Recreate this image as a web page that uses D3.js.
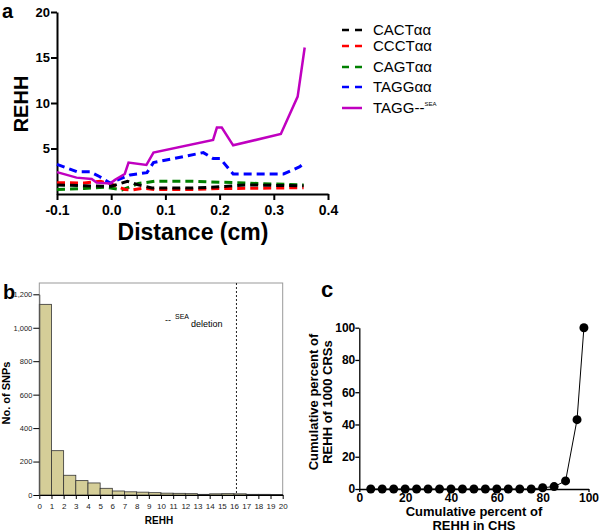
<!DOCTYPE html>
<html>
<head>
<meta charset="utf-8">
<script src="https://cdn.jsdelivr.net/npm/d3@7"></script>
<style>
  body { margin: 0; background: #fff; }
  svg { display: block; font-family: "Liberation Sans", Arial, sans-serif; }
</style>
</head>
<body>
<div id="chart"></div>
<script>
// REHH figure: a = REHH vs distance, b = REHH histogram, c = cumulative percent

// panel a
var seriesNames = ["CACTαα", "CCCTαα", "CAGTαα", "TAGGαα", "TAGG--"];
var cactDist = [-0.1, -0.05, 0.0, 0.03, 0.05, 0.075, 0.15, 0.2, 0.25, 0.3, 0.355];
var cactRehh = [1.0, 0.9, 0.85, 1.4, 1.0, 0.65, 0.65, 0.8, 1.0, 0.95, 0.9];
var ccctDist = [-0.1, -0.05, -0.02, 0.0, 0.025, 0.04, 0.06, 0.08, 0.15, 0.2, 0.3, 0.355];
var ccctRehh = [1.25, 1.2, 1.4, 1.1, 0.5, 0.45, 0.65, 0.5, 0.5, 0.6, 0.65, 0.7];
var cagtDist = [-0.1, -0.05, -0.01, 0.02, 0.05, 0.08, 0.15, 0.2, 0.25, 0.3, 0.355];
var cagtRehh = [0.5, 0.6, 0.75, 0.45, 1.15, 1.4, 1.4, 1.3, 1.2, 1.1, 1.0];
var taggDist = [-0.1, -0.063, -0.039, -0.021, -0.002, 0.035, 0.066, 0.078, 0.17, 0.188, 0.201, 0.225, 0.318, 0.348, 0.355];
var taggRehh = [3.25, 2.45, 2.45, 1.9, 1.2, 2.1, 2.35, 3.45, 4.55, 3.9, 3.9, 2.2, 2.2, 3.0, 3.35];
var seaDist = [-0.1, -0.064, -0.036, -0.027, -0.002, 0.007, 0.025, 0.032, 0.065, 0.078, 0.188, 0.195, 0.204, 0.225, 0.313, 0.344, 0.357];
var seaRehh = [2.4, 1.8, 1.65, 1.25, 1.15, 1.55, 2.2, 3.45, 3.2, 4.55, 5.95, 7.3, 7.3, 5.35, 6.6, 10.7, 16.1];
var distTicks = [-0.1, 0.0, 0.1, 0.2, 0.3, 0.4];
var rehhTicks = [5, 10, 15, 20];

// panel b
var histCounts = [1140, 265, 118, 86, 72, 40, 24, 19, 17, 14, 11, 10, 8, 4, 7, 8, 7, 4, 4, 3];
var histTicksY = [0, 200, 400, 600, 800, 1000, 1200];
var seaDeletionRehh = 16.2;

// panel c
var cumChs = [5, 10, 15, 20, 25, 30, 35, 40, 45, 50, 55, 60, 65, 70, 75, 80, 85, 90, 95, 98];
var cumCrs = [0, 0, 0, 0, 0, 0, 0, 0, 0, 0, 0, 0, 0, 0, 0, 0.8, 1.5, 5, 43, 100];
var cumTicks = [0, 20, 40, 60, 80, 100];

var fig = {
    param: {
	width: 600,
	height: 532,
	colors: ["#000000", "#ff0000", "#008000", "#0000ff", "#c000c0"]
    },

    init: function(){
	var param = fig.param;
	var svg = d3.select("#chart").append("svg")
	    .attr("width", param.width)
	    .attr("height", param.height);
	fig.panelA(svg);
	fig.panelB(svg);
	fig.panelC(svg);
    },

    panelA: function(svg){
	var param = fig.param;
	var x = d3.scaleLinear().domain([-0.1, 0.4]).range([57, 328]);
	var y = d3.scaleLinear().domain([0, 20]).range([194, 12]);
	var g = svg.append("g");

	g.append("text").attr("x", 2).attr("y", 18)
	    .attr("font-size", 20).attr("font-weight", "bold").text("a");

	var xa = g.append("g").attr("transform", "translate(0,194)")
	    .call(d3.axisBottom(x).tickValues(distTicks).tickFormat(function(d){ return d.toFixed(1); }).tickSize(6).tickSizeOuter(0));
	xa.selectAll("text").attr("font-size", 14).attr("font-weight", "bold").attr("dy", "0.86em")
	    .attr("font-family", "Liberation Sans, Arial");
	var ya = g.append("g").attr("transform", "translate(57,0)")
	    .call(d3.axisLeft(y).tickValues(rehhTicks).tickSize(6).tickSizeOuter(0));
	ya.selectAll("text").attr("font-size", 13).attr("font-weight", "bold").attr("x", -7)
	    .attr("font-family", "Liberation Sans, Arial");
	g.selectAll(".domain, .tick line").attr("stroke", "#000").attr("stroke-width", 2);

	g.append("text").attr("x", 193).attr("y", 240).attr("text-anchor", "middle")
	    .attr("font-size", 23).attr("font-weight", "bold").text("Distance (cm)");
	g.append("text").attr("transform", "translate(28,104) rotate(-90)").attr("text-anchor", "middle")
	    .attr("font-size", 20).attr("font-weight", "bold").text("REHH");

	var sets = [[cactDist, cactRehh], [ccctDist, ccctRehh], [cagtDist, cagtRehh], [taggDist, taggRehh], [seaDist, seaRehh]];
	var line = d3.line().x(function(d){ return x(d[0]); }).y(function(d){ return y(d[1]); });
	var order = [2, 1, 0, 3, 4];
	order.forEach(function(i){
	    var pts = d3.zip(sets[i][0], sets[i][1]);
	    g.append("path").datum(pts)
		.attr("fill", "none")
		.attr("stroke", param.colors[i])
		.attr("stroke-width", i == 4 ? 2.5 : 3)
		.attr("stroke-dasharray", i == 4 ? null : "8,5")
		.attr("d", line);
	});

	// legend
	var rows = [30, 46, 67, 87, 108];
	var lg = g.selectAll(".leg").data(seriesNames).enter().append("g")
	    .attr("transform", function(d, i){ return "translate(342," + rows[i] + ")"; });
	lg.append("line").attr("x1", 0).attr("x2", 20)
	    .attr("stroke", function(d, i){ return param.colors[i]; })
	    .attr("stroke-width", 2.5)
	    .attr("stroke-dasharray", function(d, i){ return i == 4 ? null : "7,6"; });
	var lt = lg.append("text").attr("x", 31).attr("y", 5).attr("font-size", 15).text(function(d){ return d; });
	lt.filter(function(d, i){ return i == 4; }).append("tspan")
	    .attr("font-size", 6).attr("dy", -7).text("SEA");
    },

    panelB: function(svg){
	var x = d3.scaleLinear().domain([0, 20]).range([39.3, 282.7]);
	var y = d3.scaleLinear().domain([0, 1200]).range([495, 294.3]);
	var g = svg.append("g");

	g.append("text").attr("x", 3).attr("y", 299)
	    .attr("font-size", 20).attr("font-weight", "bold").text("b");

	g.append("rect").attr("x", 39.3).attr("y", 283).attr("width", 243.4).attr("height", 212)
	    .attr("fill", "none").attr("stroke", "#999").attr("stroke-width", 1);

	g.selectAll(".bar").data(histCounts).enter().append("rect")
	    .attr("x", function(d, i){ return x(i); })
	    .attr("width", x(1) - x(0))
	    .attr("y", function(d){ return y(d); })
	    .attr("height", function(d){ return y(0) - y(d); })
	    .attr("fill", "#d5ce98").attr("stroke", "#333").attr("stroke-width", 0.8);

	g.append("line").attr("x1", x(seaDeletionRehh)).attr("x2", x(seaDeletionRehh))
	    .attr("y1", 283).attr("y2", 495)
	    .attr("stroke", "#222").attr("stroke-width", 1).attr("stroke-dasharray", "2,2");

	var xa = g.append("g").attr("transform", "translate(0,495)")
	    .call(d3.axisBottom(x).ticks(20).tickSize(4).tickSizeOuter(0));
	xa.selectAll("text").attr("font-size", 8).attr("dy", "0.9em").attr("fill", "#222");
	var ya = g.append("g").attr("transform", "translate(39.3,0)")
	    .call(d3.axisLeft(y).tickValues(histTicksY).tickFormat(d3.format(",")).tickSize(6).tickSizeOuter(0));
	ya.selectAll("text").attr("font-size", 7.5).attr("x", -7).attr("fill", "#222");
	ya.select(".domain").attr("stroke", "#555");

	g.append("text").attr("x", 165).attr("y", 323).attr("font-size", 9).text("--");
	g.append("text").attr("x", 175).attr("y", 319).attr("font-size", 7).text("SEA");
	g.append("text").attr("x", 191).attr("y", 327).attr("font-size", 9).text("deletion");

	g.append("text").attr("x", 159).attr("y", 524).attr("text-anchor", "middle")
	    .attr("font-size", 10).attr("font-weight", "bold").text("REHH");
	g.append("text").attr("transform", "translate(10,393) rotate(-90)").attr("text-anchor", "middle")
	    .attr("font-size", 11).attr("font-weight", "bold").text("No. of SNPs");
    },

    panelC: function(svg){
	var x = d3.scaleLinear().domain([0, 100]).range([359.3, 588.5]);
	var y = d3.scaleLinear().domain([0, 100]).range([489, 327.7]);
	var g = svg.append("g");

	g.append("text").attr("x", 321).attr("y", 297)
	    .attr("font-size", 22).attr("font-weight", "bold").text("c");

	var xa = g.append("g").attr("transform", "translate(0,489)")
	    .call(d3.axisBottom(x).tickValues(cumTicks).tickSize(3).tickSizeOuter(0));
	xa.selectAll("text").attr("font-size", 12).attr("font-weight", "bold").attr("dy", "0.55em");
	var ya = g.append("g").attr("transform", "translate(359.3,0)")
	    .call(d3.axisLeft(y).tickValues(cumTicks).tickSize(4).tickSizeOuter(0));
	ya.selectAll("text").attr("font-size", 12).attr("font-weight", "bold").attr("x", -4);
	g.selectAll(".domain, .tick line").attr("stroke", "#000").attr("stroke-width", 1.3);

	var pts = d3.zip(cumChs, cumCrs);
	g.append("path").datum(pts).attr("fill", "none").attr("stroke", "#000").attr("stroke-width", 1)
	    .attr("d", d3.line().x(function(d){ return x(d[0]); }).y(function(d){ return y(d[1]); }));
	g.selectAll(".pt").data(pts).enter().append("circle")
	    .attr("cx", function(d){ return x(d[0]); })
	    .attr("cy", function(d){ return y(d[1]); })
	    .attr("r", 4.5).attr("fill", "#000");

	g.append("text").attr("x", 474).attr("y", 516).attr("text-anchor", "middle")
	    .attr("font-size", 13).attr("font-weight", "bold").text("Cumulative percent of");
	g.append("text").attr("x", 474).attr("y", 530).attr("text-anchor", "middle")
	    .attr("font-size", 13).attr("font-weight", "bold").text("REHH in CHS");
	g.append("text").attr("transform", "translate(318,402) rotate(-90)").attr("text-anchor", "middle")
	    .attr("font-size", 13).attr("font-weight", "bold").text("Cumulative percent of");
	g.append("text").attr("transform", "translate(332,402) rotate(-90)").attr("text-anchor", "middle")
	    .attr("font-size", 13).attr("font-weight", "bold").text("REHH of 1000 CRSs");
    }
};

fig.init();
</script>
</body>
</html>
